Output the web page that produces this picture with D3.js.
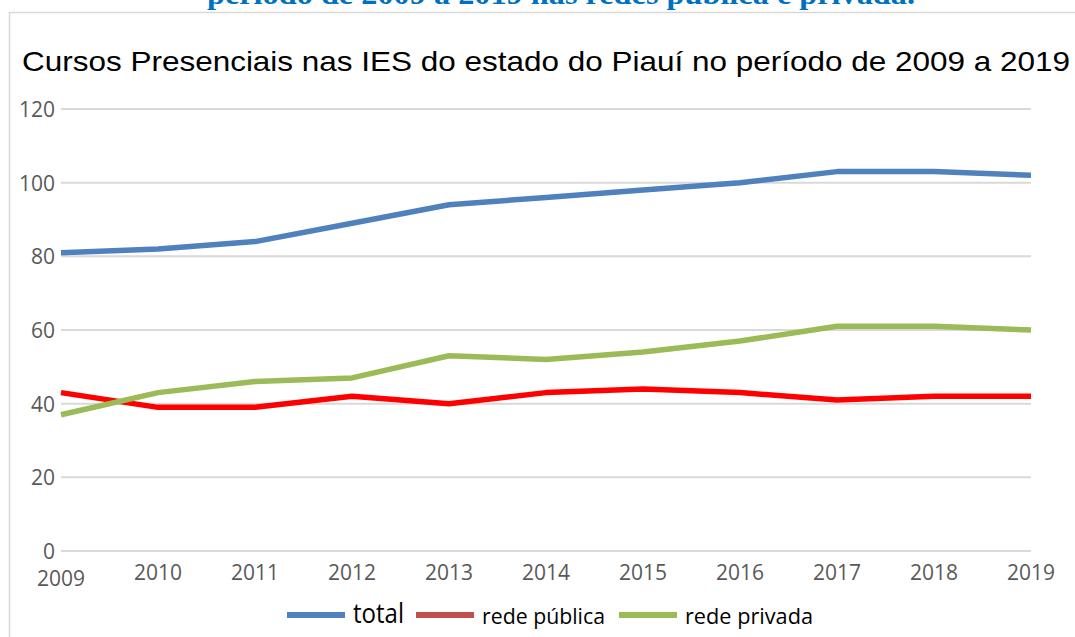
<!DOCTYPE html>
<html lang="pt">
<head>
    <meta charset="UTF-8">
    <script src="https://cdnjs.cloudflare.com/ajax/libs/d3/7.8.5/d3.min.js"></script>
    <style>
        body { margin: 0; background: #fff; }
        svg { display: block; }
    </style>
</head>
<body>
<svg id="chart" width="1075" height="637"></svg>
<script>
    const years = [2009, 2010, 2011, 2012, 2013, 2014, 2015, 2016, 2017, 2018, 2019];
    const total = [81, 82, 84, 89, 94, 96, 98, 100, 103, 103, 102];
    const redePublica = [43, 39, 39, 42, 40, 43, 44, 43, 41, 42, 42];
    const redePrivada = [37, 43, 46, 47, 53, 52, 54, 57, 61, 61, 60];
    const yTicks = [0, 20, 40, 60, 80, 100, 120];

    const series = [
        { name: 'total', values: total, color: '#4F81BD', legend: '#4F81BD' },
        { name: 'rede pública', values: redePublica, color: '#FF0000', legend: '#C0504D' },
        { name: 'rede privada', values: redePrivada, color: '#9BBB59', legend: '#9BBB59' }
    ];

    const svg = d3.select('#chart');

    // caption of the source document, cut off at the top like in the scan
    svg.append('text')
        .attr('x', 207).attr('y', 4)
        .attr('textLength', 708)
        .attr('lengthAdjust', 'spacingAndGlyphs')
        .style('font-family', '"Liberation Serif", serif')
        .style('font-weight', 'bold')
        .style('font-size', '29px')
        .style('fill', '#0070C0')
        .text('período de 2009 a 2019 nas redes pública e privada.');

    // chart frame
    svg.append('path')
        .attr('d', 'M9.5,637 V12.5 H1075')
        .style('fill', 'none')
        .style('stroke', '#d9d9d9')
        .style('stroke-width', 1.5);

    svg.append('text')
        .attr('x', 22).attr('y', 71)
        .attr('textLength', 1048)
        .attr('lengthAdjust', 'spacingAndGlyphs')
        .style('font-family', '"Liberation Sans", Arial, sans-serif')
        .style('font-size', '28px')
        .style('fill', '#000')
        .text('Cursos Presenciais nas IES do estado do Piauí no período de 2009 a 2019');

    const x = d3.scaleLinear().domain([2009, 2019]).range([61, 1031]);
    const y = d3.scaleLinear().domain([0, 120]).range([551, 109]);

    // gridlines
    svg.append('g')
        .selectAll('line')
        .data(yTicks).enter()
        .append('line')
        .attr('x1', 61).attr('x2', 1031)
        .attr('y1', d => y(d)).attr('y2', d => y(d))
        .style('stroke', '#d9d9d9')
        .style('stroke-width', 2);

    const labelFont = '"Open Sans", sans-serif';

    svg.append('g')
        .selectAll('text')
        .data(yTicks).enter()
        .append('text')
        .attr('x', 55)
        .attr('y', d => y(d) + 8)
        .attr('text-anchor', 'end')
        .style('font-family', labelFont)
        .style('font-size', '21px')
        .style('fill', '#595959')
        .text(d => d);

    svg.append('g')
        .selectAll('text')
        .data(years).enter()
        .append('text')
        .attr('x', d => x(d))
        .attr('y', (d, i) => i === 0 ? 586 : 580)
        .attr('text-anchor', 'middle')
        .style('font-family', labelFont)
        .style('font-size', '21px')
        .style('fill', '#595959')
        .text(d => d);

    const line = d3.line()
        .x((d, i) => x(years[i]))
        .y(d => y(d));

    svg.append('g')
        .selectAll('path')
        .data(series).enter()
        .append('path')
        .attr('d', d => line(d.values))
        .style('fill', 'none')
        .style('stroke', d => d.color)
        .style('stroke-width', 5.5)
        .style('stroke-linejoin', 'round');

    // legend
    const legendX = [287, 416, 619];
    const legendW = [51, 123, 128];
    const legendSize = [27, 21, 21];
    const legend = svg.append('g')
        .selectAll('g')
        .data(series).enter()
        .append('g')
        .attr('transform', (d, i) => `translate(${legendX[i]},615)`);

    legend.append('line')
        .attr('x1', 0).attr('x2', 58)
        .style('stroke', d => d.legend)
        .style('stroke-width', 6);

    legend.append('text')
        .attr('x', 66)
        .attr('y', (d, i) => i === 0 ? 8 : 9)
        .attr('textLength', (d, i) => legendW[i])
        .attr('lengthAdjust', 'spacingAndGlyphs')
        .style('font-family', labelFont)
        .style('font-size', (d, i) => legendSize[i] + 'px')
        .style('fill', '#000')
        .text(d => d.name);
</script>
</body>
</html>
